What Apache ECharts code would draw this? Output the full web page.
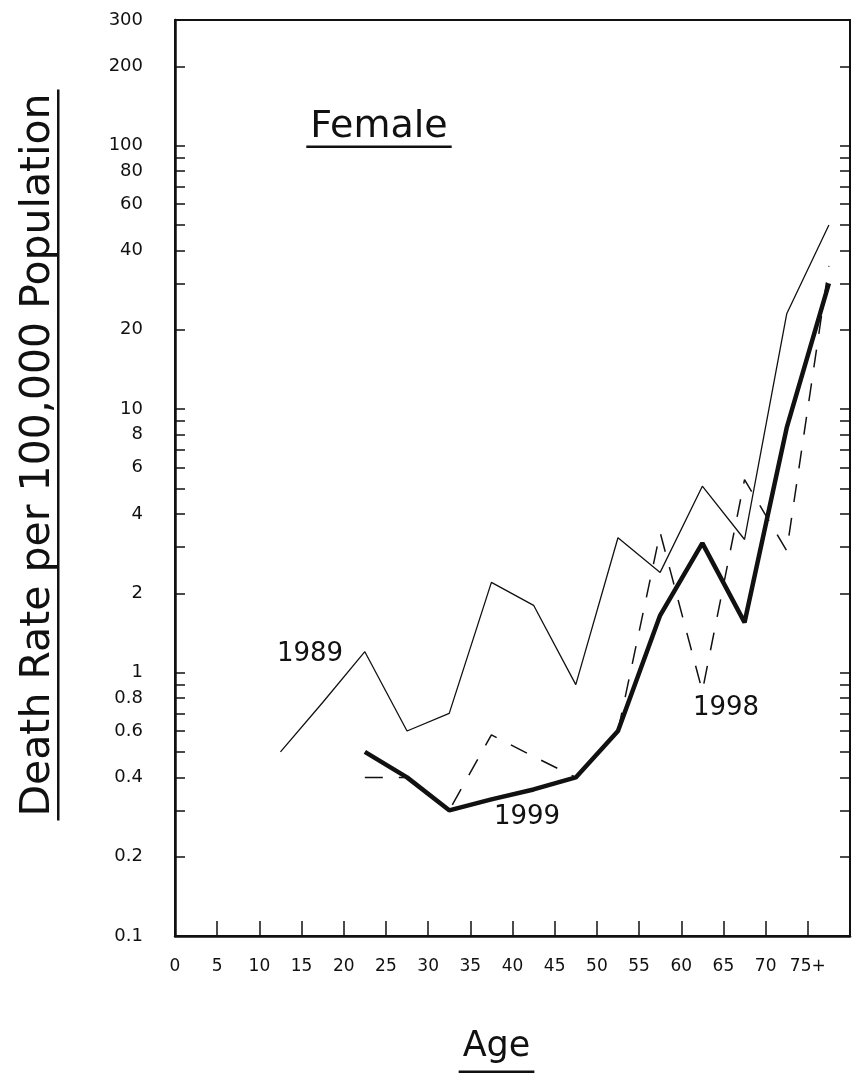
<!DOCTYPE html>
<html>
<head>
<meta charset="utf-8">
<script src="https://cdn.jsdelivr.net/npm/echarts@6/dist/echarts.min.js"></script>
<style>
  html, body { margin: 0; padding: 0; background: #ffffff; }
  #chart { width: 854px; height: 1080px; }
</style>
</head>
<body>
<div id="chart"></div>
<script>
// Age-group midpoints (years) at which each rate is plotted
const ageMidpoints = [12.5, 17.5, 22.5, 27.5, 32.5, 37.5, 42.5, 47.5, 52.5, 57.5, 62.5, 67.5, 72.5, 77.5];

// Female death rate per 100,000 population, by age group
const rates1989 = [0.5, 0.77, 1.2, 0.6, 0.7, 2.2, 1.8, 0.9, 3.25, 2.4, 5.1, 3.2, 23, 50];
const rates1998 = [null, null, 0.4, 0.4, 0.3, 0.58, 0.48, 0.4, 0.6, 3.4, 0.85, 5.4, 2.9, 35];
const rates1999 = [null, null, 0.5, 0.4, 0.3, 0.33, 0.36, 0.4, 0.6, 1.65, 3.1, 1.55, 8.5, 30];

// Age axis labels, one per 5-year step starting at 0
const ageTickLabels = ['0', '5', '10', '15', '20', '25', '30', '35', '40', '45', '50', '55', '60', '65', '70', '75+'];

// Rate axis: labelled values and tick positions (log scale)
const rateLabelValues = [0.1, 0.2, 0.4, 0.6, 0.8, 1, 2, 4, 6, 8, 10, 20, 40, 60, 80, 100, 200, 300];
const rateTickValues = [0.2, 0.3, 0.4, 0.5, 0.6, 0.7, 0.8, 0.9, 1, 2, 3, 4, 5, 6, 7, 8, 9,
                        10, 20, 30, 40, 50, 60, 70, 80, 90, 100, 200];

const INK = '#111111';
const FONT = 'DejaVu Sans';

const pairs = (vals) => ageMidpoints.map((a, i) => [a, vals[i]]);

const measureCtx = document.createElement('canvas').getContext('2d');
function textWidth(text, size) {
  measureCtx.font = size + 'px "' + FONT + '"';
  return measureCtx.measureText(text).width;
}

const titleText = 'Female';
const xName = 'Age';
const yName = 'Death Rate per 100,000 Population';
const titleW = textWidth(titleText, 38);
const xNameW = textWidth(xName, 35);
const yNameW = textWidth(yName, 41);

const fmtRate = (v) => String(Number(Number(v).toPrecision(3)));

const chart = echarts.init(document.getElementById('chart'), null, { renderer: 'canvas' });

chart.setOption({
  backgroundColor: '#ffffff',
  animation: false,
  grid: {
    left: 175, right: 4, top: 20, bottom: 144,
    show: true, borderColor: INK, borderWidth: 2, backgroundColor: 'transparent'
  },
  xAxis: {
    type: 'value',
    min: 0, max: 80, interval: 5,
    axisLine: { show: true, lineStyle: { color: INK, width: 2.5 } },
    axisTick: { show: true, inside: true, length: 15, lineStyle: { color: INK, width: 1.5 } },
    splitLine: { show: false },
    axisLabel: {
      color: INK, fontFamily: FONT, fontSize: 17, margin: 22,
      formatter: (v) => ageTickLabels[Math.round(v / 5)] || ''
    }
  },
  yAxis: [
    {
      type: 'log', logBase: 10, min: 0.1, max: 300,
      axisLine: { show: true, lineStyle: { color: INK, width: 2.5 } },
      axisTick: { show: true, inside: true, length: 10, customValues: rateTickValues,
                  lineStyle: { color: INK, width: 1.5 } },
      minorTick: { show: false },
      splitLine: { show: false },
      axisLabel: { color: INK, fontFamily: FONT, fontSize: 18, margin: 32,
                   customValues: rateLabelValues, formatter: fmtRate }
    },
    {
      type: 'log', logBase: 10, min: 0.1, max: 300, position: 'right',
      axisLine: { show: false },
      axisTick: { show: true, inside: true, length: 10, customValues: rateTickValues,
                  lineStyle: { color: INK, width: 1.5 } },
      splitLine: { show: false },
      axisLabel: { show: false }
    }
  ],
  series: [
    {
      name: '1989', type: 'line', data: pairs(rates1989),
      symbol: 'none', lineStyle: { color: INK, width: 1.3 }
    },
    {
      name: '1998', type: 'line', data: pairs(rates1998),
      symbol: 'none', lineStyle: { color: INK, width: 1.5, type: [18, 16] }
    },
    {
      name: '1999', type: 'line', data: pairs(rates1999),
      symbol: 'none', lineStyle: { color: INK, width: 4.5 }, z: 3
    }
  ],
  graphic: [
    { type: 'text', x: 379, y: 127,
      style: { text: titleText, font: '38px "' + FONT + '"', fill: INK, align: 'center', verticalAlign: 'middle' } },
    { type: 'rect', shape: { x: 379 - titleW / 2 - 4, y: 145.5, width: titleW + 8, height: 2.5 },
      style: { fill: INK } },

    { type: 'text', x: 496.5, y: 1047,
      style: { text: xName, font: '35px "' + FONT + '"', fill: INK, align: 'center', verticalAlign: 'middle' } },
    { type: 'rect', shape: { x: 496.5 - xNameW / 2 - 4, y: 1070.5, width: xNameW + 8, height: 2.5 },
      style: { fill: INK } },

    { type: 'text', x: 38, y: 455, rotation: Math.PI / 2,
      style: { text: yName, font: '41px "' + FONT + '"', fill: INK, align: 'center', verticalAlign: 'middle' } },
    { type: 'rect', shape: { x: 57, y: 455 - yNameW / 2 - 4, width: 2.5, height: yNameW + 8 },
      style: { fill: INK } },

    { type: 'text', x: 310, y: 654,
      style: { text: '1989', font: '26px "' + FONT + '"', fill: INK, align: 'center', verticalAlign: 'middle' } },
    { type: 'text', x: 527, y: 817,
      style: { text: '1999', font: '26px "' + FONT + '"', fill: INK, align: 'center', verticalAlign: 'middle' } },
    { type: 'text', x: 726, y: 708,
      style: { text: '1998', font: '26px "' + FONT + '"', fill: INK, align: 'center', verticalAlign: 'middle' } }
  ]
});
</script>
</body>
</html>
